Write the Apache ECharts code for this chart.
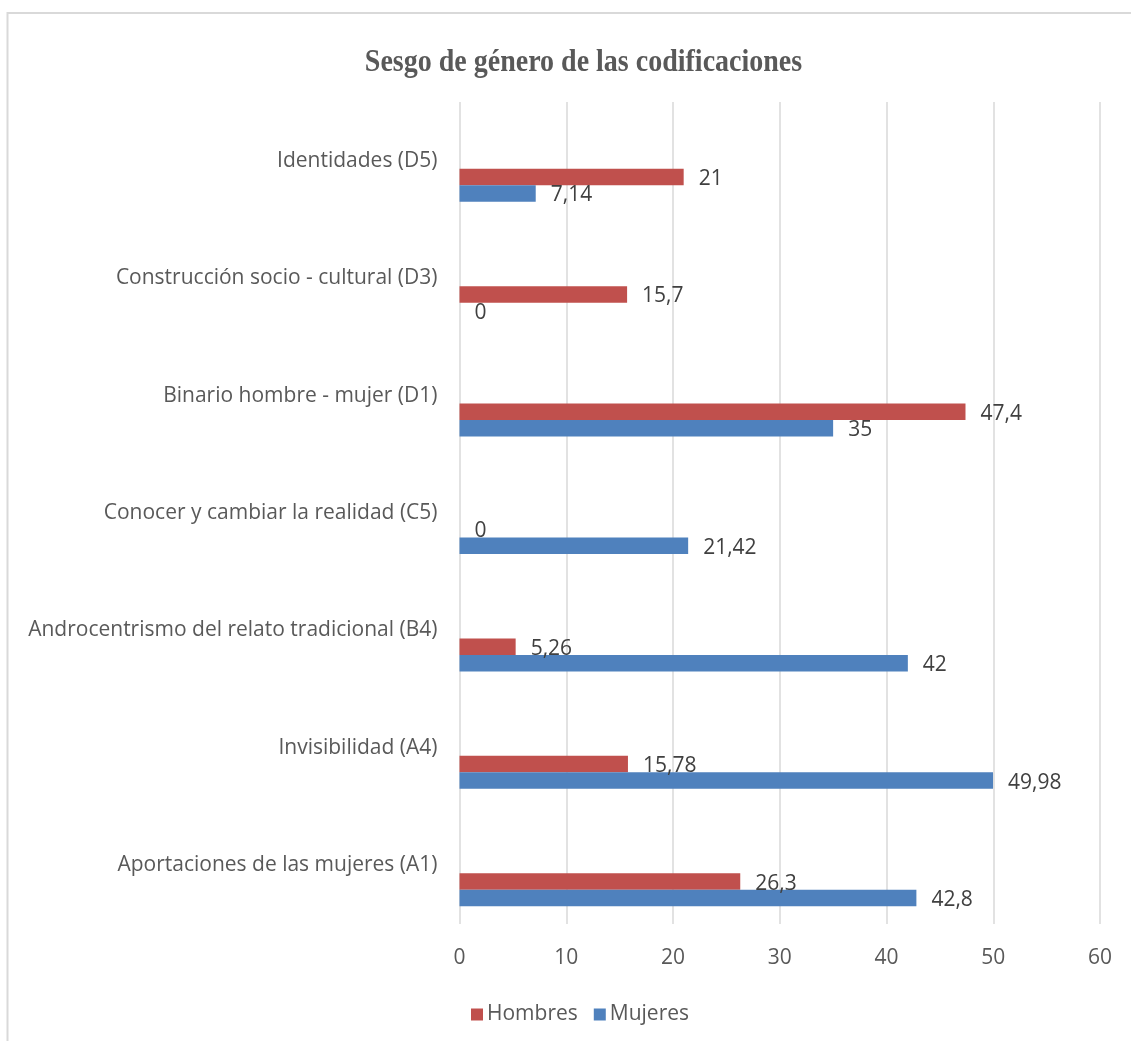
<!DOCTYPE html>
<html>
<head>
<meta charset="utf-8">
<title>Sesgo de género de las codificaciones</title>
<script src="https://cdn.jsdelivr.net/npm/echarts@6/dist/echarts.min.js"></script>
<style>
  html, body { margin: 0; padding: 0; background: #ffffff; }
  #chart { width: 1131px; height: 1041px; }
</style>
</head>
<body>
<div id="chart"></div>
<script>
// Categories listed from the bottom of the axis to the top
const categories = [
  'Aportaciones de las mujeres (A1)',
  'Invisibilidad (A4)',
  'Androcentrismo del relato tradicional (B4)',
  'Conocer y cambiar la realidad (C5)',
  'Binario hombre - mujer (D1)',
  'Construcción socio - cultural (D3)',
  'Identidades (D5)'
];
const seriesNames = ['Hombres', 'Mujeres'];
const hombres = [26.3, 15.78, 5.26, 0, 47.4, 15.7, 21];
const mujeres = [42.8, 49.98, 42, 21.42, 35, 0, 7.14];
const valueMin = 0;
const valueMax = 60;
const valueStep = 10;
const chartTitle = 'Sesgo de género de las codificaciones';

const FONT = '"Open Sans", "Noto Sans", sans-serif';
const TEXT = '#595959';
const GRID = '#d9d9d9';
const RED = '#c0504d';
const BLUE = '#4f81bd';

// Comma as the decimal separator
const fmt = v => String(v).replace('.', ',');

// Layout: the labelled grid carries gridlines and category names; the bars
// sit in a second grid of identical size, dropped a little lower in each band.
const plotLeft = 459.5;
const plotRight = 31;
const plotTop = 102;
const plotHeight = 822;
const barShift = 24.5;

const chart = echarts.init(document.getElementById('chart'), null, { renderer: 'canvas' });

function barSeries(name, data, color) {
  return {
    name: name,
    type: 'bar',
    xAxisIndex: 1,
    yAxisIndex: 1,
    data: data,
    barWidth: 16.5,
    barGap: '0%',
    itemStyle: { color: color },
    label: {
      show: true,
      position: 'right',
      distance: 15,
      offset: [0, 2],
      fontFamily: FONT,
      fontSize: 21,
      color: '#404040',
      formatter: p => fmt(p.value)
    },
    emphasis: { disabled: true },
    animation: false
  };
}

chart.setOption({
  backgroundColor: '#ffffff',
  animation: false,
  textStyle: { fontFamily: FONT },
  graphic: [
    {
      type: 'polyline',
      shape: { points: [[1131, 13], [7.5, 13], [7.5, 1041]] },
      style: { stroke: GRID, lineWidth: 2, fill: null },
      silent: true
    },
    {
      type: 'text',
      x: 583.5,
      y: 63,
      scaleY: 1.12,
      style: {
        text: chartTitle,
        fontFamily: '"Liberation Serif", "Times New Roman", serif',
        fontWeight: 'bold',
        fontSize: 28,
        fill: TEXT,
        align: 'center',
        verticalAlign: 'middle'
      },
      silent: true
    }
  ],
  legend: {
    data: seriesNames,
    left: 466,
    top: 999,
    icon: 'rect',
    itemWidth: 12,
    itemHeight: 12,
    itemGap: 16,
    textStyle: { fontFamily: FONT, fontSize: 21, color: TEXT, padding: [0, 0, 0, -1] },
    selectedMode: false
  },
  grid: [
    { left: plotLeft, right: plotRight, top: plotTop, height: plotHeight, containLabel: false },
    { left: plotLeft, right: plotRight, top: plotTop + barShift, height: plotHeight, containLabel: false }
  ],
  xAxis: [
    {
      gridIndex: 0,
      type: 'value',
      min: valueMin,
      max: valueMax,
      interval: valueStep,
      axisLine: { show: false },
      axisTick: { show: false },
      splitLine: { show: true, lineStyle: { color: GRID, width: 1.5 } },
      axisLabel: { margin: 24, fontFamily: FONT, fontSize: 21, color: TEXT }
    },
    {
      gridIndex: 1,
      type: 'value',
      min: valueMin,
      max: valueMax,
      interval: valueStep,
      show: false
    }
  ],
  yAxis: [
    {
      gridIndex: 0,
      type: 'category',
      data: categories,
      axisLine: { show: false },
      axisTick: { show: false },
      splitLine: { show: false },
      axisLabel: { margin: 22, fontFamily: FONT, fontSize: 21, color: TEXT }
    },
    {
      gridIndex: 1,
      type: 'category',
      data: categories,
      show: false
    }
  ],
  series: [
    barSeries(seriesNames[0], hombres, RED),
    barSeries(seriesNames[1], mujeres, BLUE)
  ]
});
</script>
</body>
</html>
